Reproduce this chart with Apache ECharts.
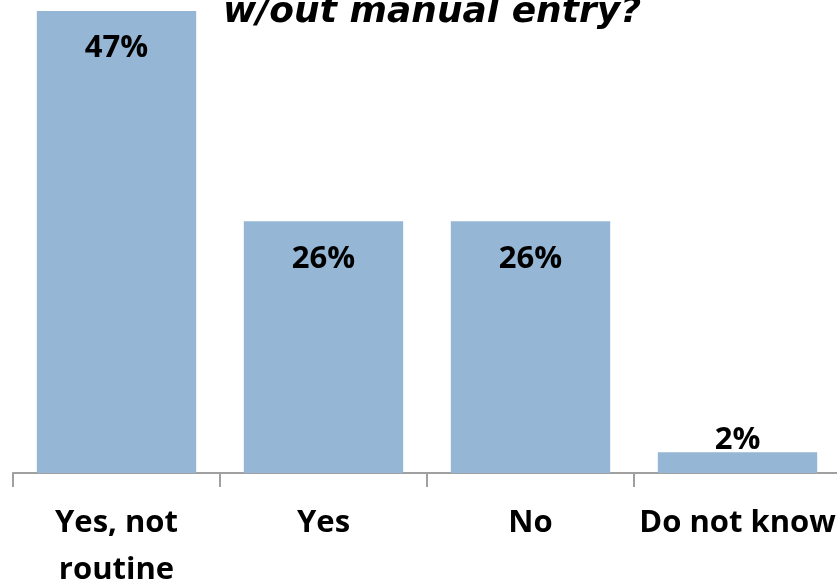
<!DOCTYPE html>
<html><head><meta charset="utf-8">
<script src="https://cdn.jsdelivr.net/npm/echarts@6/dist/echarts.min.js"></script>
<style>html,body{margin:0;padding:0;background:#fff}#c{width:837px;height:581px}</style>
</head><body><div id="c"></div>
<script>
const titleText = 'w/out manual entry?';
const categories = ['Yes, not\nroutine', 'Yes', 'No', 'Do not know'];
const values = [47, 25.6, 25.6, 2.1];
const labels = ['47%', '26%', '26%', '2%'];

const chart = echarts.init(document.getElementById('c'));
const FONT = 'Open Sans';
chart.setOption({
  animation: false,
  title: {
    text: titleText, left: 427, top: -10, textAlign: 'center',
    textStyle: {fontFamily: 'DejaVu Sans', fontWeight: 'bold', fontStyle: 'italic', fontSize: 36, color: '#000'}
  },
  grid: {left: 13, right: -4, top: 11, bottom: 108, containLabel: false, outerBoundsMode: 'none'},
  xAxis: {
    type: 'category', data: categories, boundaryGap: true,
    axisLine: {lineStyle: {color: '#a0a0a0', width: 2}},
    axisTick: {show: true, length: 14, lineStyle: {color: '#a0a0a0', width: 2}},
    axisLabel: {interval: 0, margin: 27, color: '#000', fontFamily: FONT, fontWeight: 'bold', fontSize: 31, lineHeight: 47}
  },
  yAxis: {type: 'value', min: 0, max: 47, show: false, splitLine: {show: false}},
  series: [{
    type: 'bar', barWidth: '77%',
    data: values.map((v, i) => ({
      value: v,
      label: i === 3 ? {position: 'top', distance: -3} : {position: 'insideTop', distance: 22}
    })),
    itemStyle: {color: '#95b6d4'},
    label: {show: true, formatter: p => labels[p.dataIndex], color: '#000', fontFamily: FONT, fontWeight: 'bold', fontSize: 31}
  }]
});
</script></body></html>
